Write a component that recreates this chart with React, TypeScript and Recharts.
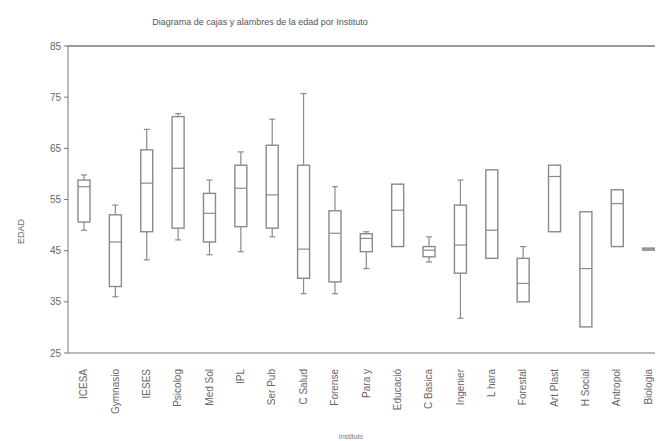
import { ComposedChart, Bar, XAxis, YAxis, ReferenceLine } from 'recharts';

// Institutes in the order of the x axis
const institutes = [
  'ICESA', 'Gymnasio', 'IESES', 'Psicolog', 'Med Sol', 'IPL', 'Ser Pub', 'C Salud', 'Forense', 'Para y',
  'Educació', 'C Basica', 'Ingenier', 'L hara', 'Forestal', 'Art Plast', 'H Social', 'Antropol', 'Biologia'
];

// age summaries per institute
const minAge = [49.0, 36.0, 43.2, 47.1, 44.2, 44.8, 47.7, 36.6, 36.6, 41.5, 45.8, 42.8, 31.8, 43.5, 35.0, 48.7, 30.1, 45.8, 45.1];
const q1Age = [50.6, 38.0, 48.7, 49.4, 46.7, 49.7, 49.4, 39.6, 38.9, 44.8, 45.8, 43.8, 40.6, 43.5, 35.0, 48.7, 30.1, 45.8, 45.1];
const medianAge = [57.5, 46.7, 58.2, 61.1, 52.3, 57.2, 55.9, 45.3, 48.4, 47.4, 52.9, 45.1, 46.1, 49.0, 38.6, 59.5, 41.5, 54.2, 45.3];
const q3Age = [58.8, 52.0, 64.7, 71.2, 56.2, 61.7, 65.6, 61.7, 52.8, 48.3, 58.0, 45.8, 53.9, 60.8, 43.5, 61.7, 52.6, 56.9, 45.5];
const maxAge = [59.8, 53.9, 68.7, 71.8, 58.8, 64.3, 70.7, 75.7, 57.5, 48.7, 58.0, 47.7, 58.8, 60.8, 45.8, 61.7, 52.6, 56.9, 45.5];

const yTicks = [25, 35, 45, 55, 65, 75, 85];

const data = institutes.map((name, i) => ({
  name,
  min: minAge[i],
  q1: q1Age[i],
  median: medianAge[i],
  q3: q3Age[i],
  max: maxAge[i],
  range: [minAge[i], maxAge[i]]
}));

const BoxShape = (props: any) => {
  const { x, width, y, height, payload } = props;
  const top = Math.min(y, y + height);
  const bot = Math.max(y, y + height);
  const span = payload.max - payload.min;
  const py = (v: number) => bot - ((v - payload.min) / span) * (bot - top);
  const cx = x + width / 2;
  const cap = 3;
  const boxTop = py(payload.q3);
  const boxBot = py(payload.q1);
  return (
    <g stroke="#8a8a8a" fill="none" strokeWidth={1.2}>
      {payload.max > payload.q3 && (
        <>
          <line x1={cx} x2={cx} y1={top} y2={boxTop} />
          <line x1={cx - cap} x2={cx + cap} y1={top} y2={top} />
        </>
      )}
      {payload.min < payload.q1 && (
        <>
          <line x1={cx} x2={cx} y1={boxBot} y2={bot} />
          <line x1={cx - cap} x2={cx + cap} y1={bot} y2={bot} />
        </>
      )}
      <rect x={x} y={boxTop} width={width} height={Math.max(boxBot - boxTop, 1.5)} fill="#fff" strokeWidth={1.4} />
      <line x1={x} x2={x + width} y1={py(payload.median)} y2={py(payload.median)} />
    </g>
  );
};

const RotatedTick = ({ x, y, payload }: any) => (
  <text
    x={x}
    y={y + 8}
    dy="0.35em"
    transform={`rotate(-90, ${x}, ${y + 8})`}
    textAnchor="end"
    fontSize={10}
    fill="#666"
  >
    {payload.value}
  </text>
);

export default function App() {
  return (
    <div style={{ width: 655, height: 433, overflow: 'hidden', fontFamily: 'Arial, "Liberation Sans", sans-serif', position: 'relative' }}>
      <ComposedChart
        width={680}
        height={433}
        data={data}
        margin={{ top: 38, right: 24, bottom: 0, left: 0 }}
      >
        <text x={252} y={17} textAnchor="middle" fontSize={9} fill="#555">
          Diagrama de cajas y alambres de la edad por Instituto
        </text>
        <XAxis
          dataKey="name"
          interval={0}
          height={88}
          tickLine={false}
          tick={<RotatedTick />}
          stroke="#777"
          label={{ value: 'Instituto', position: 'insideBottom', offset: 2, fontSize: 7, fill: '#777', dx: -15 }}
        />
        <YAxis
          type="number"
          domain={[25, 85]}
          ticks={yTicks}
          width={60}
          tickSize={4}
          tickMargin={3}
          stroke="#777"
          tick={{ fontSize: 10, fill: '#666' }}
          label={({ viewBox }: any) => (
            <text
              x={viewBox.x + 16}
              y={viewBox.y + viewBox.height / 2 + 32}
              transform={`rotate(-90, ${viewBox.x + 16}, ${viewBox.y + viewBox.height / 2 + 32})`}
              textAnchor="middle"
              fontSize={9}
              fill="#666"
            >
              EDAD
            </text>
          )}
        />
        <ReferenceLine y={85} stroke="#777" strokeWidth={1.5} />
        <Bar dataKey="range" barSize={12} shape={<BoxShape />} isAnimationActive={false} />
      </ComposedChart>
    </div>
  );
}
